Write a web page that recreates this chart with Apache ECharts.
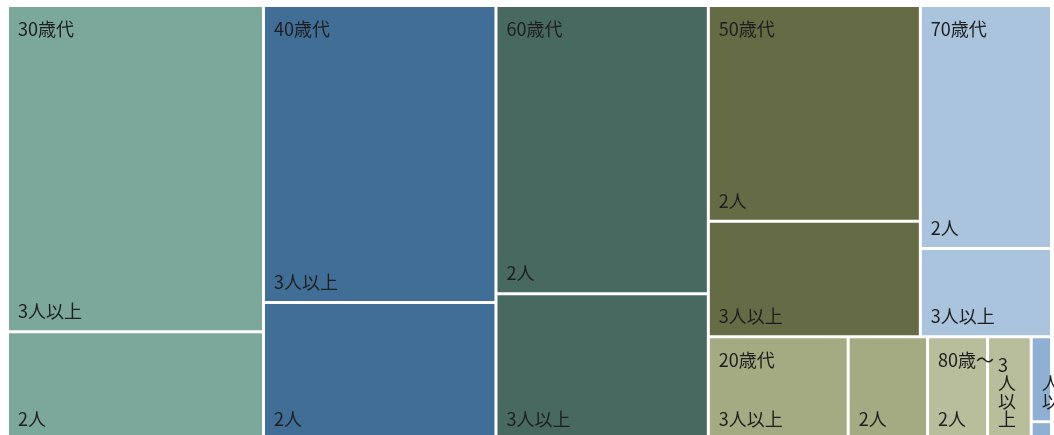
<!DOCTYPE html>
<html>
<head>
<meta charset="utf-8">
<script src="https://cdn.jsdelivr.net/npm/echarts@6/dist/echarts.min.js"></script>
<style>
html,body{margin:0;padding:0;background:#fff;}
#chart{width:1054px;height:435px;}
</style>
</head>
<body>
<div id="chart"></div>
<script>
// Age groups (parents)
const groups = ['30歳代', '40歳代', '60歳代', '50歳代', '70歳代', '20歳代', '80歳〜', '10歳代'];
// Household size categories (children)
const sizes = ['2人', '3人以上'];
// Values per group
const values2 = [60.9, 70.4, 135.2, 101.1, 70.4, 18.0, 13.6, 0.8];   // 2人
const values3 = [184.5, 152.5, 68.4, 54.1, 25.6, 31.7, 9.9, 3.8];    // 3人以上
const palette = ['#7ca79b', '#406e96', '#48695f', '#656b45', '#a9c4dc', '#a4aa81', '#b8bd9c', '#8fb0d2'];
// Tiling structure (group indices): three columns, then a block of two rows
const tiling = [0, 1, 2, [[3, 4], [5, 6, 7]]];

const clear = 'rgba(0,0,0,0)';

function leafNode(i) {
  const kids = [
    { name: sizes[0], value: values2[i] },
    { name: sizes[1], value: values3[i] }
  ].sort((a, b) => b.value - a.value);
  kids.forEach(k => { k.itemStyle = { color: palette[i] }; });
  return { name: groups[i], itemStyle: { color: palette[i] }, children: kids };
}
function groupNode(i) {
  return { name: groups[i], value: values2[i] + values3[i],
           itemStyle: { color: clear, borderColor: clear } };
}
function buildA(t) {
  return Array.isArray(t) ? { name: '', children: t.map(buildA) } : leafNode(t);
}
function buildB(t) {
  return Array.isArray(t)
    ? { name: '', itemStyle: { color: clear, borderColor: clear }, children: t.map(buildB) }
    : groupNode(t);
}
const dataA = tiling.map(buildA);
const dataB = tiling.map(buildB);

const font = '"Noto Sans CJK JP", "Noto Sans", sans-serif';
const common = {
  type: 'treemap',
  left: 9, top: 7, right: 4, bottom: -3,
  roam: false,
  nodeClick: false,
  sort: false,
  squareRatio: 1,
  breadcrumb: { show: false },
  upperLabel: { show: false },
  animation: false
};

const chart = echarts.init(document.getElementById('chart'), null, { renderer: 'canvas' });
chart.setOption({
  animation: false,
  series: [
    Object.assign({}, common, {
      itemStyle: { gapWidth: 3, borderWidth: 0, borderColor: '#fff' },
      label: {
        show: true,
        position: 'insideBottomLeft',
        distance: 0,
        padding: [0, 8, 10, 9],
        color: '#1e1e1e',
        fontSize: 18,
        fontFamily: font,
        overflow: 'break'
      },
      data: dataA
    }),
    Object.assign({}, common, {
      zlevel: 1,
      silent: true,
      color: [clear],
      itemStyle: { gapWidth: 3, borderWidth: 0, color: clear, borderColor: clear },
      label: {
        show: true,
        position: 'insideTopLeft',
        distance: 0,
        padding: [13, 8, 0, 9],
        color: '#1e1e1e',
        fontSize: 18,
        fontFamily: font,
        overflow: 'truncate'
      },
      data: dataB
    })
  ]
});
</script>
</body>
</html>
